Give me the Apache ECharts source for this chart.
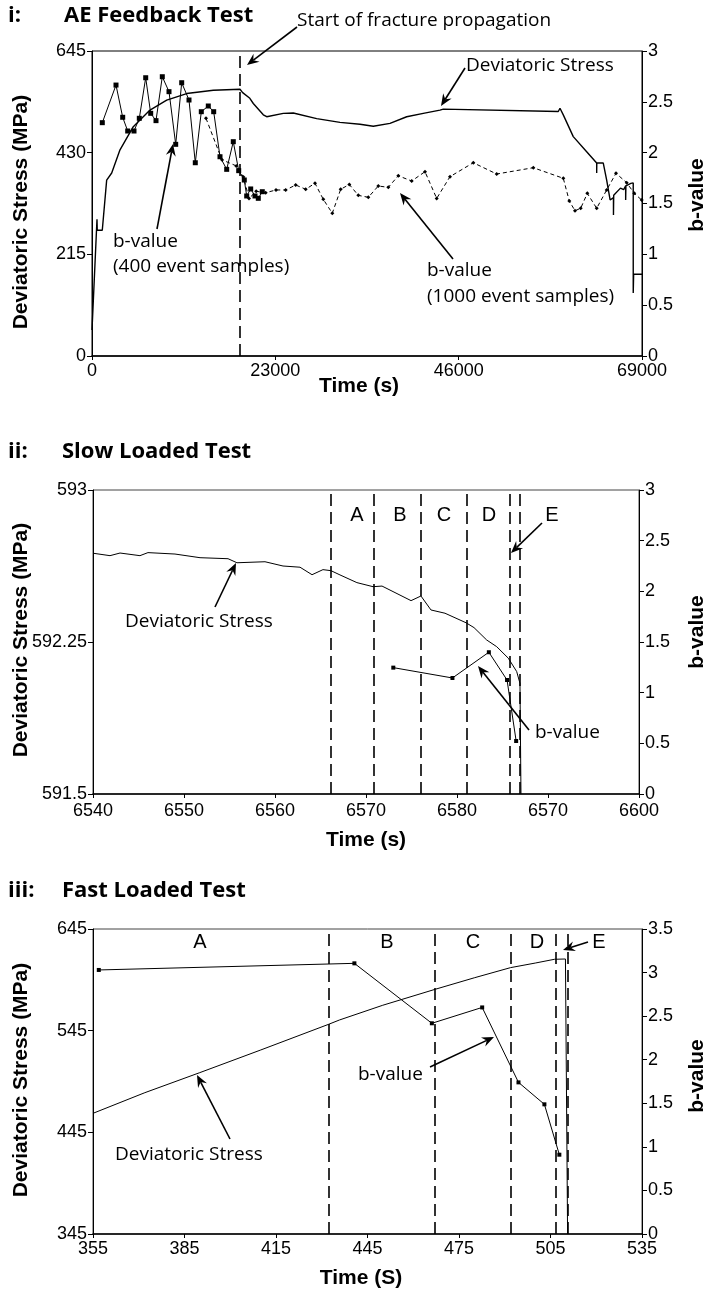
<!DOCTYPE html>
<html><head><meta charset="utf-8">
<script src="https://cdn.jsdelivr.net/npm/echarts@6/dist/echarts.min.js"></script>
<style>html,body{margin:0;padding:0;background:#fff}#c{width:708px;height:1292px}</style>
</head><body><div id="c"></div>
<script>
// ---------- Panel i: AE Feedback Test ----------
const stressTime1 = [0,627,660,1290,1840,2471,3513,5181,7276,9371,11880,15217,18567,18900,19100,19800,20235,21490,21916,23999,25254,28189,31112,33621,35290,37384,39479,41562,43657,44071,58498,58710,59124,60378,62059,63314,63314,63330,64142,64568,65000,65420,65420,65450,66300,66700,66950,66950,66980,67600,67900,67900,67950,69000];
const stressVal1  = [55,289,266,266,372,387,436,485,520,541,555,562,564,557,560,545,534,510,506,513,514,502,494,490,486,492,506,513,520,522,517,524,510,464,432,408,387,408,408,372,330,335,298,340,355,352,360,330,360,365,366,133,173,173];
const b400Time = [1292,3011,3851,4479,5269,5934,6737,7364,8029,8819,9660,10500,11253,12169,12959,13712,14590,15267,16058,16898,17726,18404,19106,19407,19909,20448,20862,21364];
const b400Val  = [2.295,2.665,2.348,2.213,2.213,2.338,2.737,2.387,2.315,2.747,2.60,2.082,2.688,2.518,1.901,2.403,2.459,2.403,1.960,1.836,2.108,1.823,1.731,1.574,1.643,1.574,1.551,1.616];
const b1000Time = [14301,16300,18100,19000,19700,20600,21790,23083,24300,25554,26809,27975,29017,30146,31200,32279,33408,34662,35917,37171,38425,40106,41775,43243,44911,47834,50770,55361,59125,59878,60593,61308,62136,63314,64568,65735,67077,68030,68958];
const b1000Val  = [2.338,1.93,1.87,1.76,1.55,1.62,1.606,1.633,1.633,1.682,1.64,1.699,1.541,1.404,1.64,1.687,1.58,1.561,1.672,1.659,1.773,1.721,1.813,1.55,1.764,1.901,1.790,1.852,1.748,1.525,1.429,1.453,1.60,1.453,1.633,1.797,1.705,1.60,1.534];
const fracture1 = [18567];
// ---------- Panel ii: Slow Loaded Test ----------
const stressTime2 = [6540,6541.87,6542.97,6545.16,6546.04,6549.01,6551.76,6554.84,6555.82,6558.9,6560.88,6562.75,6564.07,6565.27,6566.15,6567.14,6569.0,6570.77,6571.76,6574.95,6576.04,6577.14,6578.68,6580.99,6581.87,6583.26,6584.36,6585.64,6586.56,6586.92,6587.03];
const stressVal2  = [592.688,592.676,592.689,592.676,592.691,592.684,592.666,592.661,592.641,592.646,592.625,592.619,592.582,592.607,592.602,592.581,592.543,592.523,592.526,592.454,592.477,592.408,592.392,592.345,592.321,592.26,592.227,592.170,592.104,592.046,591.5];
const bTime2 = [6573.0,6579.5,6583.5,6585.5,6586.5];
const bVal2  = [1.247,1.145,1.399,1.125,0.523];
const phases2 = [6566.15,6570.8,6576.0,6581.1,6585.8,6586.95];
const xTickLabels2 = ['6540','6550','6560','6570','6580','6570','6600'];
// ---------- Panel iii: Fast Loaded Test ----------
const stressTime3 = [355,372,390,410,432.2,435.8,450,467.2,480,491.9,500,506.3,509.9,510.6];
const stressVal3  = [463.7,484,503.7,526,551.2,555.5,570,585.7,597,607,611.5,615.2,615.5,345];
const bTime3 = [356.9,440.7,466.1,482.6,494.5,503.0,507.9];
const bVal3  = [3.03,3.106,2.418,2.60,1.74,1.488,0.91];
const phases3 = [432.2,467.2,491.9,506.8,510.8];
const yTicks2L = [591.5,592.25,593];
const yTicks3L = [345,445,545,645];
const xTicks3 = [355,385,415,445,475,505,535];

const zip = (a,b)=>a.map((v,i)=>[v,b[i]]);
const chart = echarts.init(document.getElementById('c'), null, {renderer:'canvas'});
const TF = '"Liberation Sans", Arial, sans-serif';
const lab = {color:'#000', fontFamily:TF, fontSize:18};
const plain = (v)=>String(v);
function xAx(gi, min, max, extra){
  return Object.assign({gridIndex:gi, type:'value', min, max, splitLine:{show:false},
    axisLine:{onZero:false, lineStyle:{color:'#000', width:1.5}},
    axisTick:{show:true, length:4, lineStyle:{color:'#000'}},
    axisLabel:Object.assign({margin:6, formatter:plain}, lab)}, extra);
}
function yAx(gi, pos, min, max, extra){
  return Object.assign({gridIndex:gi, type:'value', position:pos, min, max, splitLine:{show:false},
    axisLine:{show:true, onZero:false, lineStyle:{color:'#000', width:1}},
    axisTick:{show:true, length:5, inside:false, lineStyle:{color:'#000'}},
    axisLabel:Object.assign({margin:6, formatter:plain}, lab)}, extra);
}
const dashML = (vals)=>({silent:true, symbol:'none', label:{show:false},
  lineStyle:{color:'#000', type:[12,6], width:1.6}, data: vals.map(v=>({xAxis:v}))});

function arrow(x1,y1,x2,y2){
  const dx=x2-x1, dy=y2-y1, L=Math.hypot(dx,dy), ux=dx/L, uy=dy/L;
  const hl=12, hw=5, bx=x2-ux*hl, by=y2-uy*hl;
  return [
    {type:'line', shape:{x1,y1,x2:bx+ux*4,y2:by+uy*4}, style:{stroke:'#000', lineWidth:1.6}},
    {type:'polygon', shape:{points:[[x2,y2],[bx-uy*hw,by+ux*hw],[bx+ux*4,by+uy*4],[bx+uy*hw,by-ux*hw]]}, style:{fill:'#000'}}
  ];
}
function txt(t,x,y,font,align,rot){
  return {type:'text', x, y, rotation:rot||0, style:{text:t, x:0, y:0, font, fill:'#000', align:align||'left', verticalAlign:'middle'}};
}
const TITLE = 'bold 22px "Open Sans", sans-serif';
const ANN = '19px "Open Sans", sans-serif';
const LET = '20px "Liberation Sans", Arial, sans-serif';
const NAME = 'bold 21px "Liberation Sans", Arial, sans-serif';
const R = Math.PI/2;
const graphics = [
  txt('i:',8,16,TITLE), txt('AE Feedback Test',64,16,TITLE),
  txt('ii:',8,452,TITLE), txt('Slow Loaded Test',62,452,TITLE),
  txt('iii:',8,891,TITLE), txt('Fast Loaded Test',62,891,TITLE),
  txt('Deviatoric Stress (MPa)',21,212,NAME,'center',R), txt('b-value',697,195,NAME,'center',R), txt('Time (s)',359,386,NAME,'center'),
  txt('Deviatoric Stress (MPa)',21,640,NAME,'center',R), txt('b-value',697,632,NAME,'center',R), txt('Time (s)',366,840,NAME,'center'),
  txt('Deviatoric Stress (MPa)',21,1080,NAME,'center',R), txt('b-value',697,1076,NAME,'center',R), txt('Time (S)',361,1278,NAME,'center'),
  txt('Start of fracture propagation',297,21,ANN),
  txt('Deviatoric Stress',466,66,ANN),
  txt('b-value',113,242,ANN), txt('(400 event samples)',113,267,ANN),
  txt('b-value',427,271,ANN), txt('(1000 event samples)',427,297,ANN),
  txt('Deviatoric Stress',125,622,ANN), txt('b-value',535,733,ANN),
  txt('A',357,515,LET,'center'), txt('B',400,515,LET,'center'), txt('C',444,515,LET,'center'),
  txt('D',489,515,LET,'center'), txt('E',552,515,LET,'center'),
  txt('A',200,942,LET,'center'), txt('B',387,942,LET,'center'), txt('C',473,942,LET,'center'),
  txt('D',537,942,LET,'center'), txt('E',599,942,LET,'center'),
  txt('b-value',358,1075,ANN), txt('Deviatoric Stress',115,1155,ANN),
  ...arrow(297,27,247,65), ...arrow(465,68,441,106), ...arrow(157,229,173,144), ...arrow(453,259,400,193),
  ...arrow(215,607,236,563), ...arrow(542,523,511,553), ...arrow(529,730,478,666),
  ...arrow(588,942,563,950), ...arrow(430,1067,494,1037), ...arrow(230,1139,197,1075)
];

chart.setOption({
  animation:false,
  backgroundColor:'#fff',
  grid:[
    {left:92, top:51, width:550, height:305, show:true, borderColor:'#000', borderWidth:1},
    {left:93, top:490, width:546, height:304, show:true, borderColor:'#444', borderWidth:1},
    {left:93, top:929, width:549, height:305, show:true, borderColor:'#444', borderWidth:1}
  ],
  xAxis:[
    xAx(0,0,69000,{interval:23000}),
    xAx(1,6540,6600,{interval:10, axisLabel:Object.assign({margin:8, formatter:(v)=>xTickLabels2[Math.round((v-6540)/10)]}, lab)}),
    xAx(2,355,535,{axisTick:{show:true,length:4,customValues:xTicks3,lineStyle:{color:'#000'}}, axisLabel:Object.assign({margin:6, customValues:xTicks3, formatter:plain}, lab)})
  ],
  yAxis:[
    yAx(0,'left',0,645,{interval:215}),
    yAx(0,'right',0,3,{interval:0.5}),
    yAx(1,'left',591.5,593,{axisTick:{show:true,length:5,customValues:yTicks2L,lineStyle:{color:'#000'}}, axisLabel:Object.assign({margin:6, customValues:yTicks2L, formatter:plain}, lab)}),
    yAx(1,'right',0,3,{interval:0.5}),
    yAx(2,'left',345,645,{axisTick:{show:true,length:5,customValues:yTicks3L,lineStyle:{color:'#000'}}, axisLabel:Object.assign({margin:6, customValues:yTicks3L, formatter:plain}, lab)}),
    yAx(2,'right',0,3.5,{interval:0.5})
  ],
  series:[
    {type:'line', xAxisIndex:0, yAxisIndex:0, data:zip(stressTime1,stressVal1), showSymbol:false, lineStyle:{color:'#000',width:1.4}, markLine:dashML(fracture1), z:3},
    {type:'line', xAxisIndex:0, yAxisIndex:1, data:zip(b400Time,b400Val), symbol:'rect', symbolSize:5, itemStyle:{color:'#000'}, lineStyle:{color:'#000',width:1}},
    {type:'line', xAxisIndex:0, yAxisIndex:1, data:zip(b1000Time,b1000Val), symbol:'diamond', symbolSize:4, itemStyle:{color:'#000'}, lineStyle:{color:'#000',width:1,type:[4,3]}},
    {type:'line', xAxisIndex:1, yAxisIndex:2, data:zip(stressTime2,stressVal2), showSymbol:false, lineStyle:{color:'#000',width:1}, markLine:dashML(phases2)},
    {type:'line', xAxisIndex:1, yAxisIndex:3, data:zip(bTime2,bVal2), symbol:'rect', symbolSize:4, itemStyle:{color:'#000'}, lineStyle:{color:'#000',width:1}},
    {type:'line', xAxisIndex:2, yAxisIndex:4, data:zip(stressTime3,stressVal3), showSymbol:false, lineStyle:{color:'#000',width:1}, markLine:dashML(phases3)},
    {type:'line', xAxisIndex:2, yAxisIndex:5, data:zip(bTime3,bVal3), symbol:'rect', symbolSize:4, itemStyle:{color:'#000'}, lineStyle:{color:'#000',width:1}}
  ],
  graphic:graphics
});
</script></body></html>
